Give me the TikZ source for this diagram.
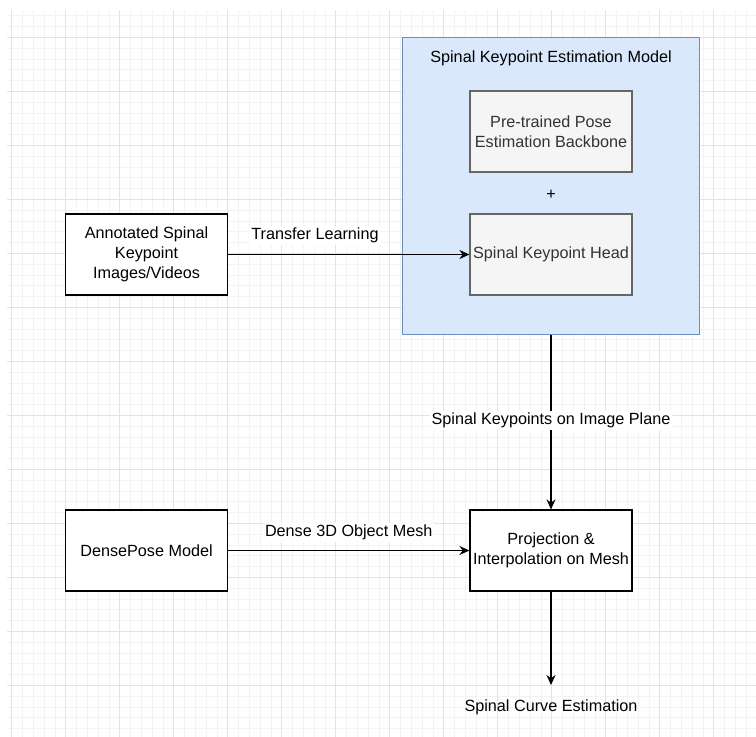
\documentclass[tikz,border=0pt]{standalone}
\usepackage{fontspec}
\setmainfont{Liberation Sans}
\usepackage{xcolor}
\usepackage{tikz}
\usetikzlibrary{shapes,arrows.meta,positioning,fit,calc}

\definecolor{gridmajor}{HTML}{E3E3E3}
\definecolor{gridminor}{HTML}{F3F3F3}
\definecolor{modelfill}{HTML}{DAE8FC}
\definecolor{modeldraw}{HTML}{6C8EBF}
\definecolor{partfill}{HTML}{F5F5F5}
\definecolor{partdraw}{HTML}{666666}
\definecolor{parttext}{HTML}{333333}

\begin{document}
\begin{tikzpicture}[x=1pt, y=-1pt, font=\fontsize{16.2}{20}\selectfont,
    box/.style={rectangle, draw, line width=1.2pt, fill=white, minimum width=162pt, minimum height=81pt, align=center, inner sep=2pt},
    part/.style={box, draw=partdraw, fill=partfill, text=parttext},
    flow/.style={-{Stealth[length=10pt,width=9pt]}, line width=1.2pt},
    lbl/.style={fill=white, inner sep=2pt}]
    % page and grid
    \useasboundingbox (0,0) rectangle (756,737);
    \fill[white] (0,0) rectangle (756,737);
    \foreach \i in {0,...,68}
        \draw[gridminor, line width=0.8pt] ({11.7+10.8*\i},10) -- ({11.7+10.8*\i},737);
    \foreach \j in {0,...,66}
        \draw[gridminor, line width=0.8pt] (7,{15.7+10.8*\j}) -- (756,{15.7+10.8*\j});
    \foreach \i in {0,...,13}
        \draw[gridmajor, line width=0.8pt] ({11.7+54*\i},10) -- ({11.7+54*\i},737);
    \foreach \j in {0,...,12}
        \draw[gridmajor, line width=0.8pt] (7,{37.3+54*\j}) -- (756,{37.3+54*\j});

    % model container
    \node (model) at (551,185.5) [rectangle, draw=modeldraw, fill=modelfill, line width=1pt, minimum width=297pt, minimum height=297pt] {};
    \node (title) [below=11pt of model.north] {Spinal Keypoint Estimation Model};
    \node (backbone) at (551,131.5) [part] {Pre-trained Pose\\Estimation Backbone};
    \node (head) at (551,254.5) [part] {Spinal Keypoint Head};
    \node (plus) at ($(backbone)!0.5!(head)$) [yshift=-2pt] {+};

    % inputs and mesh step
    \node (annot) at (146.5,254.5) [box] {Annotated Spinal\\Keypoint\\Images/Videos};
    \node (dense) at (146.5,550.5) [box] {DensePose Model};
    \node (proj) at (551,550.5) [box] {Projection \&\\Interpolation on Mesh};
    \coordinate (tip) at (551,685);
    \node (curve) [below=11pt of tip] {Spinal Curve Estimation};

    \draw [flow] (annot) -- node[lbl, pos=0.36, yshift=19pt] {Transfer Learning} (head);
    \draw [flow] (model) -- node[lbl, pos=0.49] {Spinal Keypoints on Image Plane} (proj);
    \draw [flow] (dense) -- node[lbl, yshift=18pt] {Dense 3D Object Mesh} (proj);
    \draw [flow] (proj) -- (tip);
\end{tikzpicture}
\end{document}
